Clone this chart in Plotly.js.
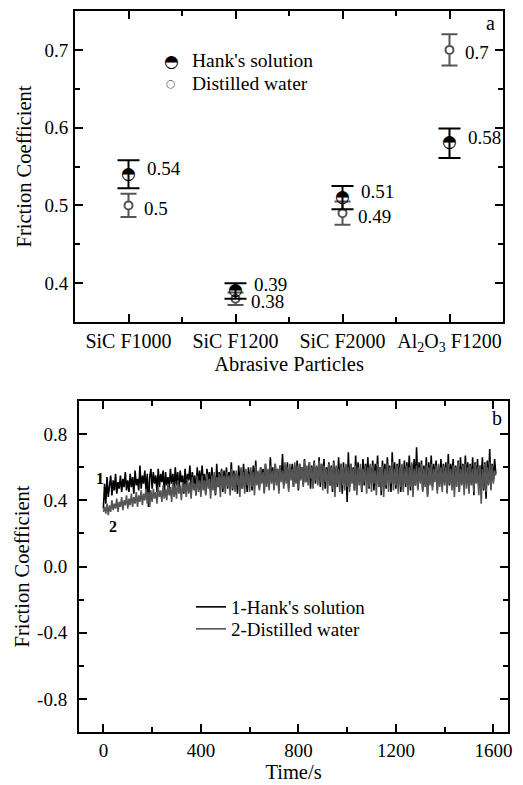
<!DOCTYPE html>
<html>
<head>
<meta charset="utf-8">
<script src="https://cdn.plot.ly/plotly-3.0.1.min.js"></script>
<style>html,body{margin:0;padding:0;background:#fff;}#chart{width:523px;height:785px;}</style>
</head>
<body>
<div id="chart"></div>
<script>
// ---------- panel a ----------
const categories = ['SiC F1000', 'SiC F1200', 'SiC F2000', 'Al<sub>2</sub>O<sub>3</sub> F1200'];
const hankMean = [0.54, 0.39, 0.51, 0.58];
const hankErr = [0.018, 0.010, 0.015, 0.019];
const waterMean = [0.5, 0.38, 0.49, 0.7];
const waterErr = [0.015, 0.008, 0.015, 0.020];
const yTicksA = [0.4, 0.5, 0.6, 0.7];

// ---------- panel b ----------
const timeS = [
  0,5,10,15,20,25,30,35,40,45,50,55,60,65,70,75,80,85,90,95,
  100,105,110,115,120,125,130,135,140,145,150,155,160,165,170,175,180,185,190,195,
  200,205,210,215,220,225,230,235,240,245,250,255,260,265,270,275,280,285,290,295,
  300,305,310,315,320,325,330,335,340,345,350,355,360,365,370,375,380,385,390,395,
  400,405,410,415,420,425,430,435,440,445,450,455,460,465,470,475,480,485,490,495,
  500,505,510,515,520,525,530,535,540,545,550,555,560,565,570,575,580,585,590,595,
  600,605,610,615,620,625,630,635,640,645,650,655,660,665,670,675,680,685,690,695,
  700,705,710,715,720,725,730,735,740,745,750,755,760,765,770,775,780,785,790,795,
  800,805,810,815,820,825,830,835,840,845,850,855,860,865,870,875,880,885,890,895,
  900,905,910,915,920,925,930,935,940,945,950,955,960,965,970,975,980,985,990,995,
  1000,1005,1010,1015,1020,1025,1030,1035,1040,1045,1050,1055,1060,1065,1070,1075,1080,1085,1090,1095,
  1100,1105,1110,1115,1120,1125,1130,1135,1140,1145,1150,1155,1160,1165,1170,1175,1180,1185,1190,1195,
  1200,1205,1210,1215,1220,1225,1230,1235,1240,1245,1250,1255,1260,1265,1270,1275,1280,1285,1290,1295,
  1300,1305,1310,1315,1320,1325,1330,1335,1340,1345,1350,1355,1360,1365,1370,1375,1380,1385,1390,1395,
  1400,1405,1410,1415,1420,1425,1430,1435,1440,1445,1450,1455,1460,1465,1470,1475,1480,1485,1490,1495,
  1500,1505,1510,1515,1520,1525,1530,1535,1540,1545,1550,1555,1560,1565,1570,1575,1580,1585,1590,1595,
  1600,1605,1610
];
const hankCurve = [
  0.35,0.50,0.38,0.54,0.42,0.49,0.55,0.43,0.52,0.46,0.56,0.44,0.51,0.47,0.55,0.45,0.53,0.48,0.57,0.46,
  0.52,0.45,0.56,0.48,0.54,0.44,0.58,0.49,0.53,0.46,0.61,0.47,0.55,0.50,0.58,0.45,0.56,0.36,0.54,0.59,
  0.47,0.57,0.50,0.55,0.45,0.59,0.48,0.56,0.51,0.58,0.44,0.57,0.49,0.54,0.47,0.59,0.50,0.56,0.46,0.60,
  0.49,0.57,0.45,0.58,0.51,0.55,0.44,0.59,0.48,0.56,0.52,0.61,0.46,0.57,0.50,0.55,0.43,0.60,0.49,0.58,
  0.47,0.61,0.50,0.56,0.44,0.59,0.51,0.57,0.46,0.60,0.49,0.55,0.43,0.62,0.48,0.57,0.51,0.59,0.45,0.58,
  0.50,0.60,0.47,0.57,0.52,0.63,0.46,0.58,0.49,0.56,0.44,0.61,0.51,0.59,0.47,0.62,0.50,0.57,0.45,0.60,
  0.52,0.58,0.46,0.61,0.49,0.64,0.51,0.57,0.47,0.60,0.53,0.59,0.45,0.62,0.50,0.58,0.48,0.66,0.52,0.60,
  0.47,0.62,0.51,0.59,0.46,0.61,0.53,0.68,0.49,0.60,0.52,0.63,0.47,0.59,0.54,0.62,0.48,0.61,0.51,0.64,
  0.46,0.62,0.53,0.60,0.49,0.65,0.51,0.59,0.55,0.63,0.47,0.61,0.52,0.64,0.50,0.60,0.54,0.66,0.48,0.62,
  0.51,0.65,0.47,0.60,0.53,0.63,0.49,0.61,0.45,0.64,0.52,0.60,0.48,0.66,0.51,0.62,0.44,0.63,0.50,0.61,
  0.39,0.69,0.48,0.62,0.52,0.60,0.46,0.67,0.50,0.63,0.53,0.59,0.45,0.65,0.49,0.62,0.52,0.66,0.47,0.61,
  0.50,0.64,0.46,0.62,0.52,0.67,0.48,0.60,0.43,0.64,0.51,0.62,0.47,0.66,0.53,0.61,0.45,0.69,0.50,0.63,
  0.47,0.62,0.52,0.65,0.45,0.61,0.50,0.64,0.48,0.63,0.53,0.67,0.46,0.62,0.51,0.65,0.49,0.72,0.47,0.63,
  0.52,0.64,0.46,0.61,0.50,0.66,0.43,0.63,0.51,0.67,0.48,0.62,0.53,0.64,0.46,0.61,0.50,0.65,0.48,0.62,
  0.51,0.63,0.45,0.68,0.49,0.62,0.53,0.65,0.47,0.61,0.51,0.64,0.45,0.66,0.50,0.62,0.48,0.67,0.52,0.63,
  0.46,0.62,0.50,0.66,0.43,0.63,0.51,0.65,0.48,0.61,0.53,0.66,0.46,0.63,0.41,0.64,0.50,0.71,0.47,0.62,
  0.52,0.65,0.56
];
const waterCurve = [
  0.33,0.36,0.32,0.38,0.31,0.37,0.33,0.40,0.34,0.38,0.35,0.41,0.33,0.39,0.36,0.42,0.34,0.40,0.37,0.43,
  0.35,0.41,0.37,0.44,0.36,0.42,0.38,0.45,0.36,0.43,0.39,0.46,0.37,0.44,0.40,0.47,0.38,0.45,0.36,0.46,
  0.39,0.47,0.41,0.45,0.38,0.48,0.42,0.46,0.39,0.49,0.41,0.47,0.40,0.50,0.43,0.48,0.39,0.51,0.42,0.49,
  0.41,0.52,0.44,0.49,0.40,0.51,0.45,0.50,0.42,0.53,0.44,0.51,0.41,0.54,0.46,0.50,0.43,0.55,0.45,0.52,
  0.42,0.55,0.46,0.52,0.43,0.56,0.47,0.53,0.41,0.55,0.46,0.57,0.44,0.54,0.48,0.56,0.42,0.58,0.47,0.55,
  0.44,0.57,0.48,0.55,0.43,0.59,0.47,0.56,0.45,0.58,0.49,0.55,0.42,0.60,0.47,0.57,0.44,0.59,0.49,0.56,
  0.45,0.60,0.48,0.57,0.43,0.61,0.49,0.58,0.46,0.60,0.50,0.57,0.44,0.62,0.48,0.59,0.46,0.61,0.50,0.58,
  0.46,0.62,0.49,0.59,0.44,0.61,0.51,0.58,0.47,0.63,0.50,0.60,0.45,0.62,0.52,0.59,0.48,0.63,0.50,0.61,
  0.47,0.62,0.52,0.60,0.48,0.64,0.51,0.61,0.49,0.63,0.53,0.60,0.47,0.63,0.52,0.61,0.49,0.64,0.51,0.62,
  0.46,0.61,0.51,0.59,0.44,0.62,0.49,0.60,0.47,0.63,0.42,0.61,0.50,0.59,0.45,0.62,0.49,0.60,0.46,0.62,
  0.48,0.60,0.45,0.62,0.50,0.59,0.46,0.61,0.43,0.60,0.49,0.62,0.46,0.59,0.51,0.61,0.44,0.60,0.48,0.62,
  0.45,0.61,0.50,0.58,0.43,0.62,0.48,0.60,0.46,0.61,0.42,0.59,0.49,0.62,0.45,0.60,0.50,0.63,0.46,0.59,
  0.49,0.61,0.44,0.60,0.48,0.62,0.45,0.59,0.50,0.61,0.43,0.60,0.48,0.63,0.42,0.59,0.49,0.61,0.46,0.60,
  0.50,0.62,0.45,0.59,0.48,0.61,0.42,0.60,0.49,0.62,0.46,0.59,0.51,0.61,0.44,0.62,0.48,0.60,0.45,0.61,
  0.49,0.60,0.44,0.62,0.50,0.59,0.46,0.61,0.42,0.60,0.48,0.63,0.45,0.59,0.49,0.61,0.43,0.62,0.47,0.60,
  0.44,0.61,0.49,0.59,0.45,0.62,0.50,0.60,0.43,0.61,0.38,0.59,0.47,0.62,0.45,0.60,0.49,0.63,0.46,0.61,
  0.50,0.58,0.55
];
const yTicksB = [-0.8, -0.4, 0.0, 0.4, 0.8];
const yTickTextB = ['-0.8', '-0.4', '0.0', '0.4', '0.8'];
const seriesNamesB = ['1-Hank\'s solution', '2-Distilled water'];

const FONT = 'Liberation Serif, Times New Roman, serif';
const GRAY = '#555555';

const catIdx = categories.map((c, i) => i);

const traces = [
  {
    x: catIdx, y: waterMean, type: 'scatter', mode: 'markers',
    xaxis: 'x', yaxis: 'y', showlegend: false, name: 'Distilled water',
    marker: {symbol: 'circle', size: 8, color: '#ffffff', line: {color: GRAY, width: 2}},
    error_y: {type: 'data', array: waterErr, visible: true, color: GRAY, thickness: 2, width: 8}
  },
  {
    x: catIdx, y: hankMean, type: 'scatter', mode: 'text',
    xaxis: 'x', yaxis: 'y', showlegend: false, name: "Hank's solution",
    text: hankMean.map(() => '\u25D3'), textposition: 'middle center',
    textfont: {family: 'DejaVu Sans', size: 17, color: '#000'},
    error_y: {type: 'data', array: hankErr, visible: true, color: '#000', thickness: 2, width: 11}
  },
  {
    x: timeS, y: hankCurve, type: 'scatter', mode: 'lines',
    xaxis: 'x2', yaxis: 'y2', name: seriesNamesB[0], legend: 'legend',
    line: {color: '#000', width: 1.6}
  },
  {
    x: timeS, y: waterCurve, type: 'scatter', mode: 'lines',
    xaxis: 'x2', yaxis: 'y2', name: seriesNamesB[1], legend: 'legend2',
    line: {color: GRAY, width: 1.6}
  }
];

const annotations = [];
hankMean.forEach((v, i) => annotations.push({
  x: i, y: v, xref: 'x', yref: 'y', text: String(v), showarrow: false,
  xanchor: 'left', yanchor: 'middle', xshift: 16, yshift: 6,
  font: {family: FONT, size: 19, color: '#000'}
}));
waterMean.forEach((v, i) => annotations.push({
  x: i, y: v, xref: 'x', yref: 'y', text: String(v), showarrow: false,
  xanchor: 'left', yanchor: 'middle', xshift: 13, yshift: -3,
  font: {family: FONT, size: 19, color: '#000'}
}));
// panel a legend
annotations.push(
  {x: 171/523, y: 1 - 61/785, xref: 'paper', yref: 'paper', text: '\u25D3', showarrow: false,
   xanchor: 'center', yanchor: 'middle', font: {family: 'DejaVu Sans', size: 17, color: '#000'}},
  {x: 190/523, y: 1 - 61/785, xref: 'paper', yref: 'paper', text: "Hank's solution", showarrow: false,
   xanchor: 'left', yanchor: 'middle', font: {family: FONT, size: 19.5, color: '#000'}},
  {x: 171/523, y: 1 - 84/785, xref: 'paper', yref: 'paper', text: '\u25CB', showarrow: false,
   xanchor: 'center', yanchor: 'middle', font: {family: 'DejaVu Sans', size: 11, color: GRAY, weight: 'bold'}},
  {x: 190/523, y: 1 - 84/785, xref: 'paper', yref: 'paper', text: 'Distilled water', showarrow: false,
   xanchor: 'left', yanchor: 'middle', font: {family: FONT, size: 19.5, color: '#000'}},
  {x: 490/523, y: 1 - 23/785, xref: 'paper', yref: 'paper', text: 'a', showarrow: false,
   xanchor: 'center', yanchor: 'middle', font: {family: FONT, size: 20, color: '#000'}},
  {x: 497/523, y: 1 - 418/785, xref: 'paper', yref: 'paper', text: 'b', showarrow: false,
   xanchor: 'center', yanchor: 'middle', font: {family: FONT, size: 20, color: '#000'}},
  {x: -14, y: 0.53, xref: 'x2', yref: 'y2', text: '<b>1</b>', showarrow: false,
   xanchor: 'center', yanchor: 'middle', font: {family: FONT, size: 16, color: '#000'}},
  {x: 40, y: 0.24, xref: 'x2', yref: 'y2', text: '<b>2</b>', showarrow: false,
   xanchor: 'center', yanchor: 'middle', font: {family: FONT, size: 16, color: '#000'}}
);

const axCommon = {
  showline: true, linecolor: '#000', linewidth: 2, mirror: 'ticks',
  ticks: 'inside', ticklen: 8, tickwidth: 2, tickcolor: '#000',
  showgrid: false, zeroline: false, automargin: false,
  tickfont: {family: FONT, size: 19, color: '#000'}
};

const legendCommon = {
  xanchor: 'left', yanchor: 'middle',
  bgcolor: 'rgba(0,0,0,0)', borderwidth: 0,
  font: {family: FONT, size: 19, color: '#000'},
  tracegroupgap: 0, itemwidth: 30
};

const layout = {
  width: 523, height: 785,
  margin: {l: 0, r: 0, t: 0, b: 0},
  paper_bgcolor: '#fff', plot_bgcolor: '#fff',
  font: {family: FONT, color: '#000'},
  xaxis: Object.assign({}, axCommon, {
    domain: [75/523, 503/523], anchor: 'y',
    range: [-0.5, 3.5], tickmode: 'array', tickvals: catIdx, ticktext: categories,
    tickfont: {family: FONT, size: 20, color: '#000'},
    minor: {tickmode: 'linear', tick0: 0.5, dtick: 1, ticks: 'inside', ticklen: 5, tickwidth: 2, tickcolor: '#000'},
    title: {text: 'Abrasive Particles', font: {family: FONT, size: 20.5, color: '#000'}, standoff: 2}
  }),
  yaxis: Object.assign({}, axCommon, {
    domain: [(785-322)/785, (785-11)/785], anchor: 'x',
    range: [0.35, 0.75], tickmode: 'array', tickvals: yTicksA, ticktext: yTicksA.map(v => v.toFixed(1)),
    ticklabelstandoff: 1,
    minor: {tickmode: 'linear', tick0: 0.35, dtick: 0.1, ticks: 'inside', ticklen: 5, tickwidth: 2, tickcolor: '#000'},
    title: {text: 'Friction Coefficient', font: {family: FONT, size: 20.5, color: '#000'}, standoff: 7}
  }),
  xaxis2: Object.assign({}, axCommon, {
    domain: [79/523, 508/523], anchor: 'y2',
    range: [-100, 1660], tickmode: 'linear', tick0: 0, dtick: 400,
    minor: {tickmode: 'linear', tick0: 200, dtick: 400, ticks: 'inside', ticklen: 5, tickwidth: 2, tickcolor: '#000'},
    title: {text: 'Time/s', font: {family: FONT, size: 20.5, color: '#000'}, standoff: 2}
  }),
  yaxis2: Object.assign({}, axCommon, {
    domain: [(785-732)/785, (785-401)/785], anchor: 'x2',
    range: [-1, 1], tickmode: 'array', tickvals: yTicksB, ticktext: yTickTextB,
    ticklabelstandoff: 6,
    minor: {tickmode: 'linear', tick0: -0.6, dtick: 0.4, ticks: 'inside', ticklen: 5, tickwidth: 2, tickcolor: '#000'},
    title: {text: 'Friction Coefficient', font: {family: FONT, size: 20.5, color: '#000'}, standoff: 2}
  }),
  showlegend: true,
  legend: Object.assign({}, legendCommon, {x: 191/523, y: 1 - 607/785}),
  legend2: Object.assign({}, legendCommon, {x: 191/523, y: 1 - 629/785}),
  annotations: annotations
};

Plotly.newPlot('chart', traces, layout, {staticPlot: true, displayModeBar: false});
</script>
</body>
</html>
